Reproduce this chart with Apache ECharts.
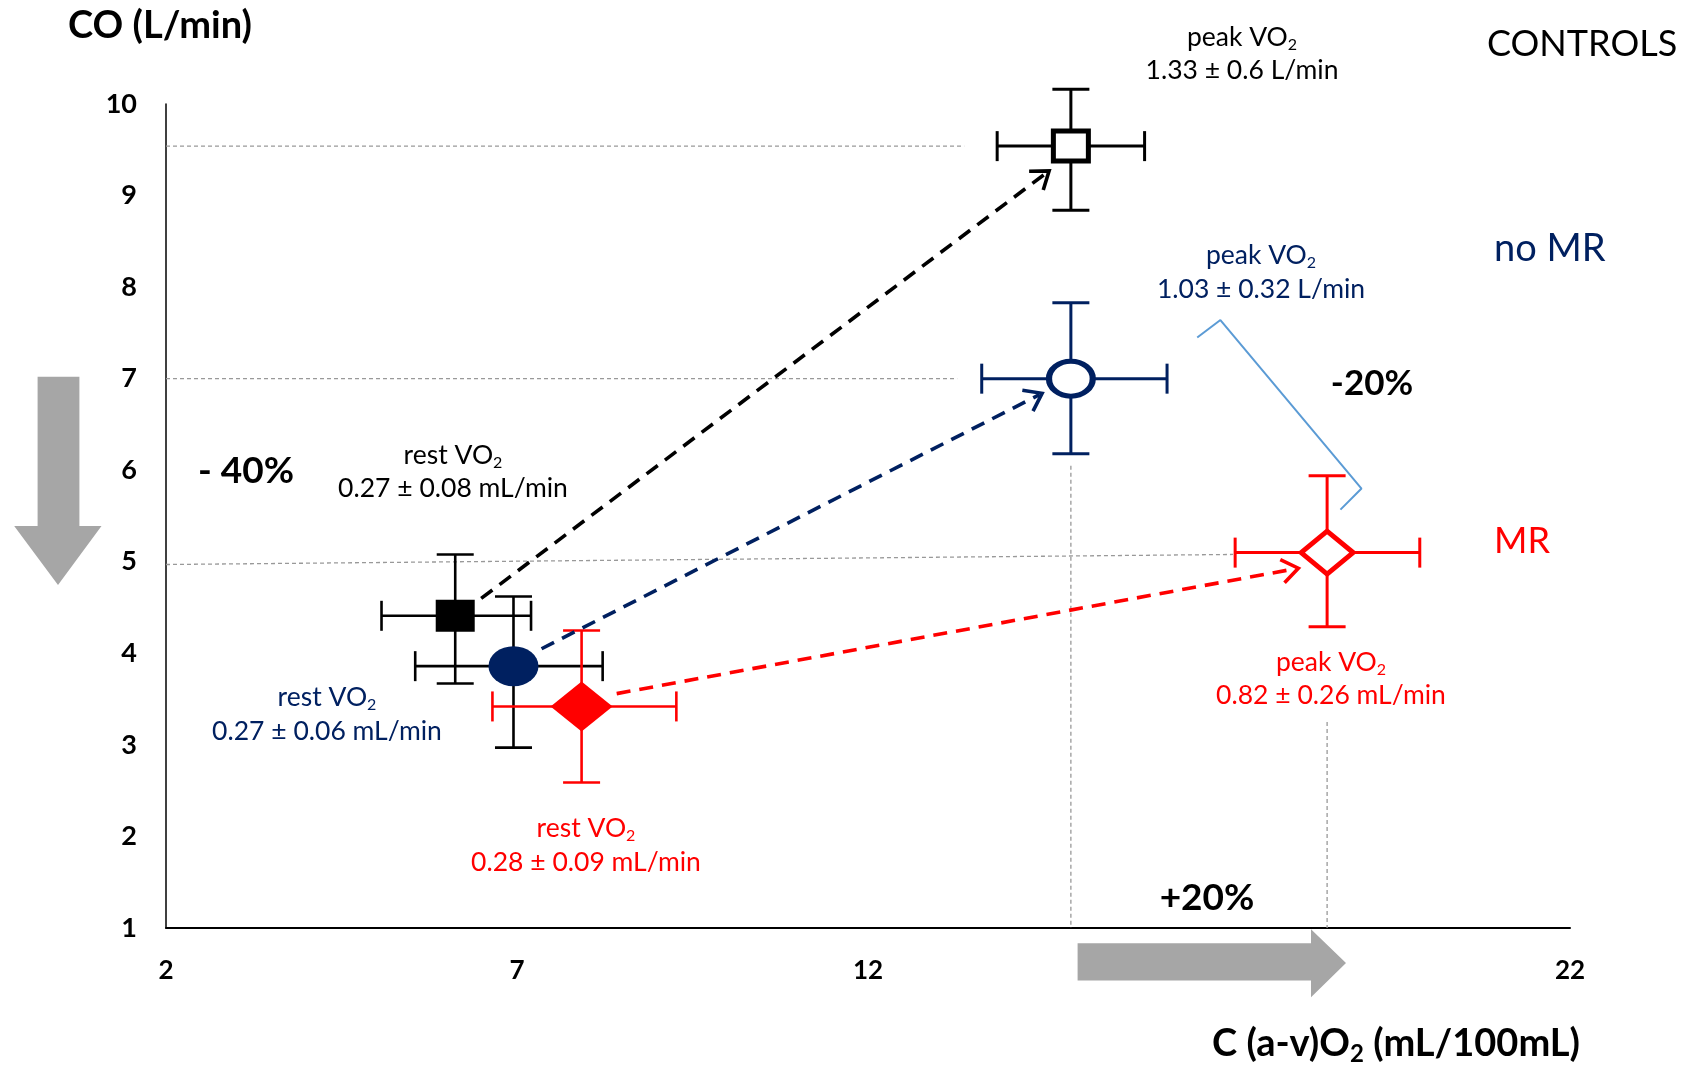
<!DOCTYPE html>
<html><head><meta charset="utf-8">
<script src="https://cdn.jsdelivr.net/npm/echarts@6/dist/echarts.min.js"></script>
<style>html,body{margin:0;padding:0;background:#fff}#c{width:1683px;height:1071px}</style>
</head><body><div id="c"></div>
<script>
// ---------------- data ----------------
const groups = ['CONTROLS', 'no MR', 'MR'];
const restX = [6.12, 6.95, 7.92];
const restY = [4.41, 3.86, 3.42];
const restXLow = [5.07, 5.55, 6.65];
const restXHigh = [7.20, 8.22, 9.27];
const restYLow = [3.67, 2.97, 2.59];
const restYHigh = [5.08, 4.62, 4.25];
const peakX = [14.89, 14.89, 18.54];
const peakY = [9.54, 7.00, 5.10];
const peakXLow = [13.84, 13.62, 17.23];
const peakXHigh = [15.94, 16.26, 19.86];
const peakYLow = [8.84, 6.18, 4.29];
const peakYHigh = [10.16, 7.83, 5.94];
// dashed arrows rest -> peak (endpoints at marker edges)
const arrowFrom = [[6.49, 4.60], [7.35, 4.05], [8.42, 3.56]];
const arrowTo = [[14.58, 9.27], [14.48, 6.84], [18.13, 4.93]];
// thin grey reference lines
const refLines = [
  [[2, 9.54], [13.37, 9.54]],
  [[2, 7.00], [13.27, 7.00]],
  [[2, 4.97], [17.20, 5.08]],
  [[14.89, 6.05], [14.89, 1]],
  [[18.54, 3.25], [18.54, 1]]
];
const bracket = [[16.69, 7.45], [17.02, 7.64], [19.03, 5.80], [18.73, 5.57]];
const xTickLabels = [2, 7, 12, 22];
const yTickLabels = [1, 2, 3, 4, 5, 6, 7, 8, 9, 10];
const restLabels = [['rest VO', '0.27 ± 0.08 mL/min'], ['rest VO', '0.27 ± 0.06 mL/min'], ['rest VO', '0.28 ± 0.09 mL/min']];
const peakLabels = [['peak VO', '1.33 ± 0.6 L/min'], ['peak VO', '1.03 ± 0.32 L/min'], ['peak VO', '0.82 ± 0.26 mL/min']];
const pctLabels = ['- 40%', '-20%', '+20%'];

// ---------------- styles ----------------
const FONT = 'Lato';
const NAVY = '#002060', RED = '#FF0000', BLACK = '#000000', GREY = '#A6A6A6';
const markerColor = [BLACK, NAVY, RED];
const restErrColor = [BLACK, BLACK, RED];
const peakErrColor = [BLACK, NAVY, RED];

function errorBars(c, l, r, t, b, color, lw) {
  const capH = 15, capW = 18.5;
  const st = { stroke: color, lineWidth: lw };
  return [
    { type: 'line', shape: { x1: l[0], y1: l[1], x2: r[0], y2: r[1] }, style: st },
    { type: 'line', shape: { x1: t[0], y1: t[1], x2: b[0], y2: b[1] }, style: st },
    { type: 'line', shape: { x1: l[0], y1: l[1] - capH, x2: l[0], y2: l[1] + capH }, style: st },
    { type: 'line', shape: { x1: r[0], y1: r[1] - capH, x2: r[0], y2: r[1] + capH }, style: st },
    { type: 'line', shape: { x1: t[0] - capW, y1: t[1], x2: t[0] + capW, y2: t[1] }, style: st },
    { type: 'line', shape: { x1: b[0] - capW, y1: b[1], x2: b[0] + capW, y2: b[1] }, style: st }
  ];
}
function marker(i, c, open) {
  const col = markerColor[i];
  const fill = open ? '#fff' : col;
  const lw = open ? 5 : 0;
  const st = { fill: fill, stroke: open ? col : null, lineWidth: lw, lineJoin: 'miter' };
  if (i === 0) {
    const w = open ? 35 : 39, h = open ? 30 : 32;
    return { type: 'rect', shape: { x: c[0] - w / 2, y: c[1] - h / 2, width: w, height: h }, style: st };
  }
  if (i === 1) {
    const r = open ? 17.5 : 20;
    return { type: 'circle', x: c[0], y: c[1], scaleX: 1.25, shape: { cx: 0, cy: 0, r: r }, style: st };
  }
  const w = open ? 26 : 31, h = open ? 21.5 : 25;
  return { type: 'polygon', shape: { points: [[c[0] - w, c[1]], [c[0], c[1] - h], [c[0] + w, c[1]], [c[0], c[1] + h]] }, style: st };
}
function pointSeries(xs, ys, xl, xh, yl, yh, open) {
  return {
    type: 'custom', coordinateSystem: 'cartesian2d', z: 4, clip: false,
    encode: { x: [0, 2, 3], y: [1, 4, 5] },
    data: xs.map((x, i) => [x, ys[i], xl[i], xh[i], yl[i], yh[i], i]),
    renderItem(params, api) {
      const i = api.value(6);
      const x = api.value(0), y = api.value(1);
      const c = api.coord([x, y]);
      const l = api.coord([api.value(2), y]), r = api.coord([api.value(3), y]);
      const b = api.coord([x, api.value(4)]), t = api.coord([x, api.value(5)]);
      const errCol = open ? peakErrColor[i] : restErrColor[i];
      return { type: 'group', children: errorBars(c, l, r, t, b, errCol, open ? 3 : 2.6).concat([marker(i, c, open)]) };
    }
  };
}

const arrowSeries = {
  type: 'custom', coordinateSystem: 'cartesian2d', z: 6, clip: false,
  data: arrowFrom.map((f, i) => [f[0], f[1], arrowTo[i][0], arrowTo[i][1], i]),
  renderItem(params, api) {
    const i = api.value(4);
    const p1 = api.coord([api.value(0), api.value(1)]);
    const p2 = api.coord([api.value(2), api.value(3)]);
    const ang = Math.atan2(p2[1] - p1[1], p2[0] - p1[0]);
    const L = 20, a = Math.PI * 0.8;
    const h1 = [p2[0] + L * Math.cos(ang + a), p2[1] + L * Math.sin(ang + a)];
    const h2 = [p2[0] + L * Math.cos(ang - a), p2[1] + L * Math.sin(ang - a)];
    const col = markerColor[i];
    return { type: 'group', children: [
      { type: 'line', shape: { x1: p1[0], y1: p1[1], x2: p2[0] - 3 * Math.cos(ang), y2: p2[1] - 3 * Math.sin(ang) },
        style: { stroke: col, lineWidth: 3.6, lineDash: [14, 9] } },
      { type: 'polyline', shape: { points: [h1, p2, h2] }, style: { stroke: col, lineWidth: 3.6, fill: null } }
    ] };
  }
};

const refSeries = {
  type: 'custom', coordinateSystem: 'cartesian2d', z: 1, clip: false,
  data: refLines.map(s => [s[0][0], s[0][1], s[1][0], s[1][1]]),
  renderItem(params, api) {
    const p1 = api.coord([api.value(0), api.value(1)]);
    const p2 = api.coord([api.value(2), api.value(3)]);
    return { type: 'line', shape: { x1: p1[0], y1: p1[1], x2: p2[0], y2: p2[1] },
      style: { stroke: '#999999', lineWidth: 1.3, lineDash: [4, 3] } };
  }
};

const bracketSeries = {
  type: 'line', data: bracket, symbol: 'none', z: 3,
  lineStyle: { color: '#5B9BD5', width: 2 }, silent: true
};

// ---------------- texts ----------------
function subText(x, y, main, sub, color, size) {
  return { type: 'text', x: x, y: y, z: 10, style: {
    text: '{m|' + main + '}{s|2}', align: 'center', verticalAlign: 'middle',
    rich: {
      m: { fontFamily: FONT, fontSize: size, lineHeight: 32, fill: color },
      s: { fontFamily: FONT, fontSize: Math.round(size * 0.62), lineHeight: 15, verticalAlign: 'bottom', fill: color }
    } } };
}
function plainText(x, y, txt, color, size, weight, align) {
  return { type: 'text', x: x, y: y, z: 10, style: {
    text: txt, fill: color, fontFamily: FONT, fontSize: size, fontWeight: weight || 'normal',
    align: align || 'center', verticalAlign: 'middle' } };
}
const LS = 26.5;
const labelPos = {
  rest: [[453, 455, 488], [327, 697, 731], [586, 828, 862]],
  peak: [[1242, 37, 70], [1261, 255, 289], [1331, 662, 695]]
};
const textCols = [BLACK, NAVY, RED];
const graphics = [];
for (let i = 0; i < 3; i++) {
  const rp = labelPos.rest[i], pp = labelPos.peak[i];
  graphics.push(subText(rp[0], rp[1], restLabels[i][0], '2', textCols[i], LS));
  graphics.push(plainText(rp[0], rp[2], restLabels[i][1], textCols[i], LS));
  graphics.push(subText(pp[0], pp[1], peakLabels[i][0], '2', textCols[i], LS));
  graphics.push(plainText(pp[0], pp[2], peakLabels[i][1], textCols[i], LS));
}
graphics.push(plainText(1487, 44, groups[0], BLACK, 36, 'normal', 'left'));
graphics.push(plainText(1494, 249, groups[1], NAVY, 38, 'normal', 'left'));
graphics.push(plainText(1494, 541, groups[2], RED, 36, 'normal', 'left'));
graphics.push(plainText(246, 471, pctLabels[0], BLACK, 37, 'bold'));
graphics.push(plainText(1372, 384, pctLabels[1], BLACK, 35, 'bold'));
graphics.push(plainText(1207, 898, pctLabels[2], BLACK, 37, 'bold'));
graphics.push(plainText(68, 26, 'CO (L/min)', BLACK, 38, 'bold', 'left'));
graphics.push({ type: 'text', x: 1580, y: 1044, z: 10, style: {
  text: '{m|C (a-v)O}{s|2}{m| (mL/100mL)}', align: 'right', verticalAlign: 'middle',
  rich: {
    m: { fontFamily: FONT, fontSize: 38, fontWeight: 'bold', lineHeight: 44, fill: BLACK },
    s: { fontFamily: FONT, fontSize: 24, fontWeight: 'bold', lineHeight: 22, verticalAlign: 'bottom', fill: BLACK }
  } } });
// big grey arrows
graphics.push({ type: 'polygon', z: 0, shape: { points: [[37.6, 376.7], [79.4, 376.7], [79.4, 526], [101.5, 526], [58, 585], [14.2, 526], [37.6, 526]] }, style: { fill: GREY } });
graphics.push({ type: 'polygon', z: 0, shape: { points: [[1077.6, 943.3], [1311, 943.3], [1311, 929.3], [1346, 963], [1311, 997.3], [1311, 980.5], [1077.6, 980.5]] }, style: { fill: GREY } });

// ---------------- chart ----------------
const chart = echarts.init(document.getElementById('c'), null, { renderer: 'canvas' });
chart.setOption({
  animation: false,
  backgroundColor: '#fff',
  grid: { left: 166, right: 113, top: 104, bottom: 143 },
  xAxis: {
    type: 'value', min: 2, max: 22, interval: 5,
    axisLine: { show: true, onZero: false, lineStyle: { color: BLACK, width: 2 } },
    axisTick: { show: false }, splitLine: { show: false },
    axisLabel: { margin: 30, fontFamily: FONT, fontSize: 26, fontWeight: 'bold', color: BLACK,
      formatter: v => (xTickLabels.indexOf(v) >= 0 ? String(v) : '') }
  },
  yAxis: {
    type: 'value', min: 1, max: 10, interval: 1,
    axisLine: { show: true, onZero: false, lineStyle: { color: BLACK, width: 1.5 } },
    axisTick: { show: false }, splitLine: { show: false },
    axisLabel: { margin: 29, fontFamily: FONT, fontSize: 27, fontWeight: 'bold', color: BLACK,
      formatter: v => (yTickLabels.indexOf(v) >= 0 ? String(v) : '') }
  },
  series: [
    refSeries,
    bracketSeries,
    pointSeries(restX, restY, restXLow, restXHigh, restYLow, restYHigh, false),
    pointSeries(peakX, peakY, peakXLow, peakXHigh, peakYLow, peakYHigh, true),
    arrowSeries
  ],
  graphic: graphics
});
</script>
</body></html>
